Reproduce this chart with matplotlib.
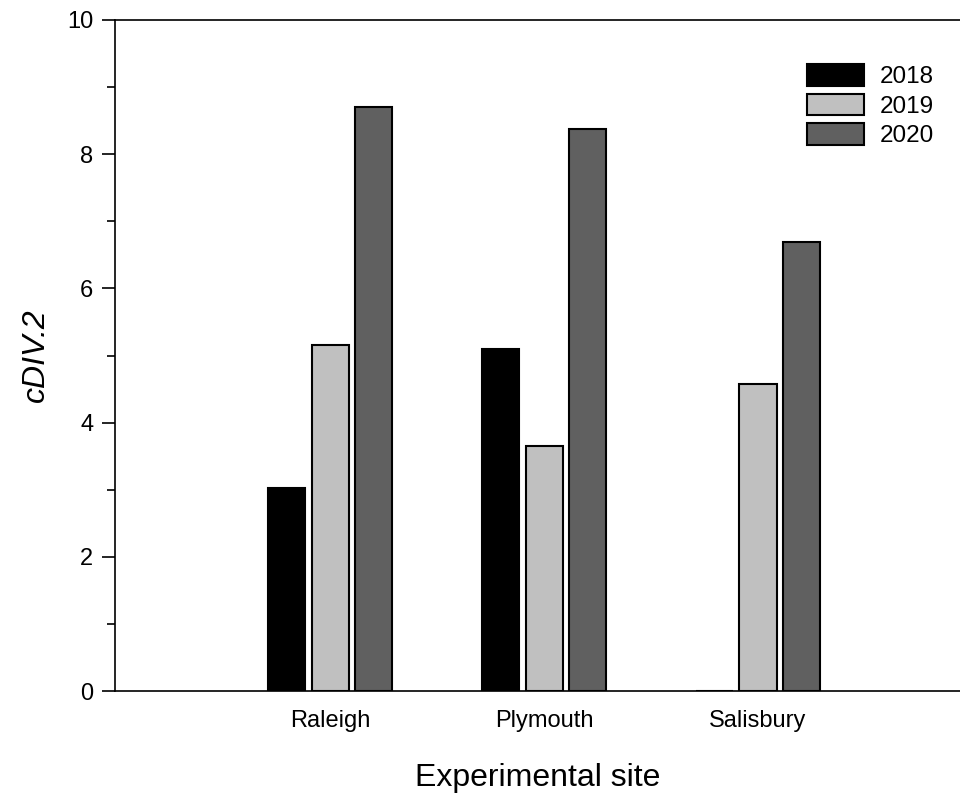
import matplotlib
matplotlib.use("Agg")
import matplotlib.pyplot as plt
import numpy as np
from matplotlib.ticker import MultipleLocator

plt.rcParams['font.family'] = ['Liberation Sans', 'DejaVu Sans']

sites = ["Raleigh", "Plymouth", "Salisbury"]
years = ["2018", "2019", "2020"]
v2018 = [3.03, 5.10, 0.0]
v2019 = [5.16, 3.65, 4.58]
v2020 = [8.70, 8.38, 6.69]
colors = ["#000000", "#c0c0c0", "#606060"]

fig = plt.figure(figsize=(9.6, 7.97), dpi=100)
ax = fig.add_axes([115/960, 1-691/797, 1-115/960, (691-20)/797])

x = np.arange(len(sites))
step = 0.203
width = 0.173
for i, (vals, yr, c) in enumerate(zip([v2018, v2019, v2020], years, colors)):
    ax.bar(x + (i-1)*step, vals, width, color=c, edgecolor="black",
           linewidth=1.5, label=yr)

ax.set_xlim(-1.005, 2.944)
ax.set_ylim(0, 10)
ax.set_xticks(x)
ax.set_xticklabels(sites, fontsize=17)
ax.tick_params(axis='x', length=0, pad=14)
ax.yaxis.set_major_locator(MultipleLocator(2))
ax.yaxis.set_minor_locator(MultipleLocator(1))
ax.tick_params(axis='y', which='major', length=9.5, width=1.2, labelsize=17, pad=6)
ax.tick_params(axis='y', which='minor', length=6, width=1.2)
for s in ['left', 'bottom', 'top']:
    ax.spines[s].set_linewidth(1.2)
ax.spines['right'].set_visible(False)

ax.set_xlabel("Experimental site", fontsize=23, labelpad=22)
ax.set_ylabel("cDIV.2", fontsize=23, style='italic', labelpad=12)

leg = ax.legend(loc='upper right', bbox_to_anchor=(0.995, 0.967), fontsize=17.5,
                frameon=False, handlelength=2.35, handleheight=1.0,
                handletextpad=0.65, labelspacing=0.22)

fig.savefig("out.png", dpi=100)
